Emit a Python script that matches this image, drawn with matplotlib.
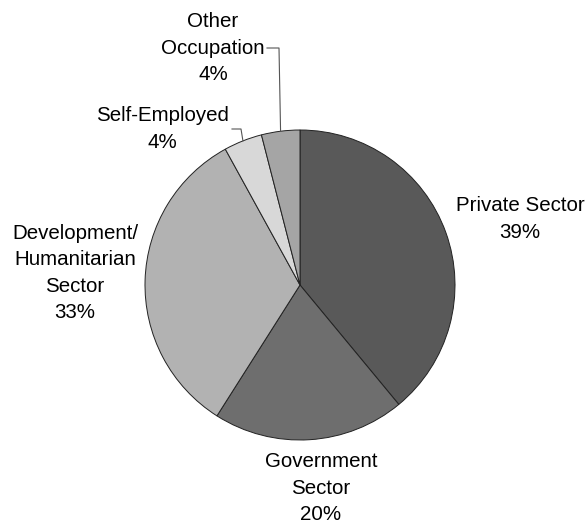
import numpy as np
import matplotlib
matplotlib.use("Agg")
import matplotlib.pyplot as plt

categories = ["Private Sector", "Government\nSector", "Development/\nHumanitarian\nSector",
              "Self-Employed", "Other\nOccupation"]
values = [39, 20, 33, 4, 4]
colors = ["#595959", "#6e6e6e", "#b2b2b2", "#d8d8d8", "#a5a5a5"]

W, H = 587, 528
fig = plt.figure(figsize=(W / 100, H / 100), dpi=100)
ax = fig.add_axes([0, 0, 1, 1])
ax.set_xlim(0, W)
ax.set_ylim(0, H)
ax.set_aspect("equal")
ax.axis("off")

cx, cy, r = 300, H - 285, 155
wedges, _ = ax.pie(values, colors=colors, startangle=90, counterclock=False,
                   center=(cx, cy), radius=r,
                   wedgeprops=dict(edgecolor="#222222", linewidth=0.7))
ax.set_xlim(0, W)
ax.set_ylim(0, H)

font = dict(family=["Liberation Sans", "DejaVu Sans"], size=14.8, color="black",
            ha="center", va="center", linespacing=1.47)

# label block centres (pixel coordinates from top)
label_pos = [(520, 219), (321, 488), (75, 273), (162, 129), (213, 48)]
for cat, v, (lx, ly) in zip(categories, values, label_pos):
    ax.text(lx, H - ly, f"{cat}\n{v}%", **font)

# leader lines for the small slices
cum = np.cumsum(values)
def edge_point(i):
    mid = (cum[i] - values[i] / 2) / sum(values)
    ang = np.deg2rad(90 - mid * 360)
    return cx + r * np.cos(ang), cy + r * np.sin(ang)

lc = dict(color="#555555", linewidth=0.8)
ex, ey = edge_point(3)
ax.plot([232, 241, ex], [H - 129, H - 129, ey], **lc)
ex, ey = edge_point(4)
ax.plot([267, 279, ex], [H - 48, H - 48, ey], **lc)

fig.savefig("out.png", dpi=100)
